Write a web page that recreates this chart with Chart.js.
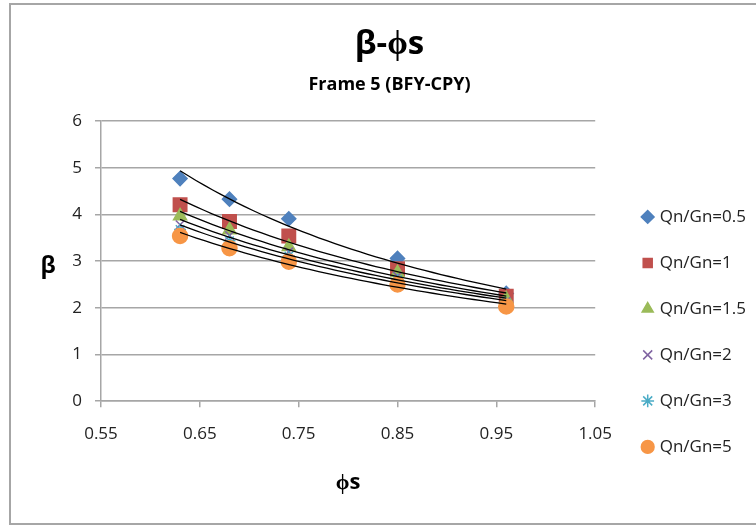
<!DOCTYPE html>
<html>
<head>
<meta charset="utf-8">
<script src="https://cdn.jsdelivr.net/npm/chart.js@4/dist/chart.umd.min.js"></script>
<style>
  body { margin: 0; background: #fff; }
  .frame { position: absolute; left: 9px; top: 3px; width: 745px; height: 518px; border: 2px solid #a6a6a6; }
</style>
</head>
<body>
<div class="frame">
  <canvas id="betaChart" width="745" height="518"></canvas>
</div>
<script>
  // phi_s values (x) and beta for each Qn/Gn ratio
  const phiS = [0.63, 0.68, 0.74, 0.85, 0.96];
  const beta05 = [4.77, 4.33, 3.91, 3.06, 2.31];
  const beta1 = [4.21, 3.85, 3.54, 2.84, 2.25];
  const beta15 = [3.97, 3.67, 3.31, 2.75, 2.19];
  const beta2 = [3.78, 3.55, 3.20, 2.68, 2.14];
  const beta3 = [3.68, 3.44, 3.11, 2.60, 2.10];
  const beta5 = [3.54, 3.28, 2.99, 2.50, 2.03];

  const seriesNames = ["Qn/Gn=0.5", "Qn/Gn=1", "Qn/Gn=1.5", "Qn/Gn=2", "Qn/Gn=3", "Qn/Gn=5"];
  const xTickLabels = ["0.55", "0.65", "0.75", "0.85", "0.95", "1.05"];
  const yTickLabels = ["0", "1", "2", "3", "4", "5", "6"];

  const allBeta = [beta05, beta1, beta15, beta2, beta3, beta5];
  const styles = [
    { pointStyle: "rectRot", color: "#4f81bd", radius: 7 },
    { pointStyle: "rect", color: "#c0504d", radius: 9.5 },
    { pointStyle: "triangle", color: "#9bbb59", radius: 7.5 },
    { pointStyle: "crossRot", color: "#8064a2", radius: 6 },
    { pointStyle: "star", color: "#4bacc6", radius: 6 },
    { pointStyle: "circle", color: "#f79646", radius: 7.5 },
  ];

  // power trendline y = a * x^b (least squares on logs, like Excel)
  function powerTrend(xs, ys) {
    const n = xs.length;
    let sx = 0, sy = 0, sxx = 0, sxy = 0;
    for (let i = 0; i < n; i++) {
      const lx = Math.log(xs[i]), ly = Math.log(ys[i]);
      sx += lx; sy += ly; sxx += lx * lx; sxy += lx * ly;
    }
    const b = (n * sxy - sx * sy) / (n * sxx - sx * sx);
    const a = Math.exp((sy - b * sx) / n);
    const pts = [];
    const x0 = Math.min(...xs), x1 = Math.max(...xs);
    for (let k = 0; k <= 40; k++) {
      const x = x0 + (x1 - x0) * k / 40;
      pts.push({ x: x, y: a * Math.pow(x, b) });
    }
    return pts;
  }

  const datasets = [];
  allBeta.forEach((ys, i) => {
    datasets.push({
      label: seriesNames[i],
      data: phiS.map((x, j) => ({ x: x, y: ys[j] })),
      pointStyle: styles[i].pointStyle,
      pointRadius: styles[i].radius,
      backgroundColor: styles[i].color,
      borderColor: styles[i].color,
      borderWidth: 1.5,
      showLine: false,
      order: 6 - i,
    });
  });
  allBeta.forEach((ys) => {
    datasets.push({
      label: "trend",
      data: powerTrend(phiS, ys),
      showLine: true,
      pointRadius: 0,
      borderColor: "#000",
      borderWidth: 1.3,
      fill: false,
      order: 0,
    });
  });

  const yTitle = {
    id: "yTitle",
    afterDraw(chart) {
      const { ctx, chartArea } = chart;
      ctx.save();
      ctx.font = "bold 23px 'Open Sans'";
      ctx.fillStyle = "#000";
      ctx.textAlign = "center";
      ctx.textBaseline = "middle";
      ctx.fillText("β", 37, (chartArea.top + chartArea.bottom) / 2 + 5);
      ctx.restore();
    },
  };

  const ctx = document.getElementById("betaChart").getContext("2d");
  const myChart = new Chart(ctx, {
    type: "scatter",
    data: { datasets: datasets },
    plugins: [yTitle],
    options: {
      responsive: false,
      animation: false,
      layout: { padding: { left: 12 } },
      font: { family: "'Open Sans'" },
      plugins: {
        tooltip: { enabled: false },
        title: {
          display: true,
          text: "β-ϕs",
          color: "#000",
          font: { size: 33, weight: "bold", family: "'Open Sans'" },
          padding: { top: 20, bottom: 0 },
        },
        subtitle: {
          display: true,
          text: "Frame 5 (BFY-CPY)",
          color: "#000",
          font: { size: 18, weight: "bold", family: "'Open Sans'" },
          padding: { top: 9, bottom: 26 },
        },
        legend: {
          position: "right",
          align: "start",
          maxWidth: 220,
          title: { display: true, text: "", padding: { top: 160, bottom: 0 } },
          labels: {
            usePointStyle: true,
            boxWidth: 7,
            boxHeight: 9,
            padding: 29,
            color: "#222",
            font: { size: 17, family: "'Open Sans'" },
            filter: (item) => item.datasetIndex < 6,
            sort: (a, b) => a.datasetIndex - b.datasetIndex,
          },
        },
      },
      scales: {
        x: {
          type: "linear",
          min: 0.55,
          max: 1.05,
          ticks: {
            stepSize: 0.1,
            padding: 17,
            color: "#222",
            font: { size: 17 },
            callback: (v, i) => xTickLabels[i],
          },
          grid: { color: "rgba(0,0,0,0)", tickColor: "#a6a6a6", tickLength: 6, lineWidth: 1.5 },
          border: { color: "#a6a6a6", width: 1.5 },
          title: {
            display: true,
            text: "ϕs",
            color: "#000",
            font: { size: 22, weight: "bold" },
            padding: { top: 8, bottom: 27 },
          },
        },
        y: {
          min: 0,
          max: 6,
          ticks: {
            stepSize: 1,
            padding: 13,
            color: "#222",
            font: { size: 17 },
            callback: (v, i) => yTickLabels[i],
          },
          grid: { color: "#a6a6a6", tickColor: "#a6a6a6", tickLength: 6, lineWidth: 1.5 },
          border: { color: "#a6a6a6", width: 1.5 },
          afterFit: (s) => { s.width = 78; },
        },
        gap: {
          type: "linear",
          position: "right",
          display: true,
          grid: { display: false },
          border: { display: false },
          ticks: { display: false },
          afterFit: (s) => { s.width = 20; },
        },
      },
    },
  });
</script>
</body>
</html>
